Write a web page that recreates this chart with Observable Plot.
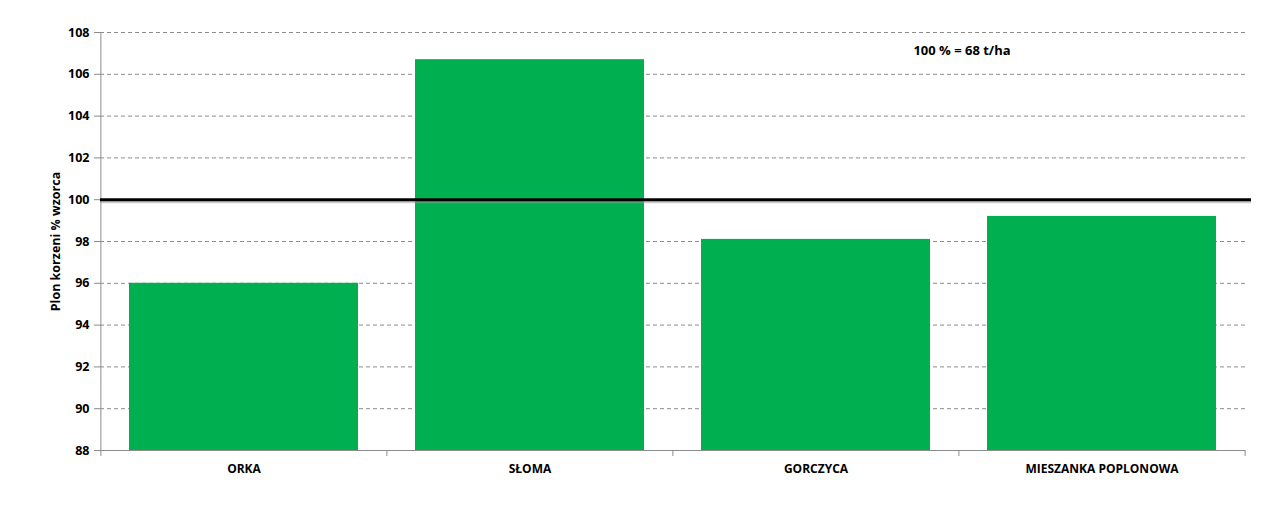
<!DOCTYPE html>
<html><head><meta charset="utf-8">
<script src="https://cdn.jsdelivr.net/npm/d3@7"></script>
<script src="https://cdn.jsdelivr.net/npm/@observablehq/plot@0.6"></script>
<style>
body{margin:0;background:#fff;}
#chart svg{font-family:"Open Sans",sans-serif;}
</style></head>
<body><div id="chart"></div>
<script>
const categories = ["ORKA", "SŁOMA", "GORCZYCA", "MIESZANKA POPLONOWA"];
const values = [96.0, 106.7, 98.1, 99.2];
const yTicks = [88, 90, 92, 94, 96, 98, 100, 102, 104, 106, 108];
const referenceValue = 100;
const note = "100 % = 68 t/ha";
const yLabel = "Plon korzeni % wzorca";

const data = categories.map((c, i) => ({cat: c, val: values[i]}));
const W = 1273, H = 508, mL = 100, mR = 28, mT = 32, mB = 58;
const step = (W - mL - mR) / categories.length;

const chart = Plot.plot({
  width: W, height: H,
  marginLeft: mL, marginRight: mR, marginTop: mT, marginBottom: mB,
  style: {fontFamily: "'Open Sans', sans-serif", fontSize: "12px", fontWeight: "bold", color: "#000", background: "#fff", overflow: "visible"},
  x: {domain: categories, paddingInner: 0.2, paddingOuter: 0.1, label: null},
  y: {domain: [88, 108], ticks: yTicks, label: null},
  marks: [
    Plot.gridY(yTicks.filter(t => t !== 88), {stroke: "#8c8c8c", strokeOpacity: 1, strokeDasharray: "4,3", strokeWidth: 1}),
    Plot.barY(data, {x: "cat", y1: 88, y2: "val", fill: "#00AF50"}),
    Plot.ruleY([88], {stroke: "#8c8c8c", strokeWidth: 1}),
    Plot.ruleX([88], {x: () => categories[0], dx: -step / 2, y1: 88, y2: 108, stroke: "#8c8c8c"}),
    Plot.ruleX(categories, {x: d => d, dx: -step / 2, y1: 88, y2: 88, insetBottom: -6, stroke: "#8c8c8c"}),
    Plot.ruleX([categories[categories.length - 1]], {x: d => d, dx: step / 2, y1: 88, y2: 88, insetBottom: -6, stroke: "#8c8c8c"}),
    Plot.axisY({ticks: yTicks, tickSize: 6, tickPadding: 5, stroke: "#8c8c8c", fontSize: 12.5, fontWeight: "bold", fill: "#000", label: null}),
    Plot.axisX({tickSize: 0, tickPadding: 14, fontSize: 12, fontWeight: "bold", fill: "#000", label: null}),
    Plot.ruleY([referenceValue], {stroke: "#999", strokeWidth: 3, dy: 2, strokeOpacity: 0.5, insetRight: -6}),
    Plot.ruleY([referenceValue], {stroke: "#000", strokeWidth: 3, insetRight: -6}),
    Plot.text([note], {x: () => categories[3], y: () => 107.1, dx: -140, text: d => d, fontSize: 13, fontWeight: "bold", fill: "#000"}),
    Plot.text([yLabel], {frameAnchor: "left", dx: -45, rotate: -90, textAnchor: "middle", text: d => d, fontSize: 12.5, fontWeight: "bold", fill: "#000"})
  ]
});
document.getElementById("chart").appendChild(chart);
</script></body></html>
